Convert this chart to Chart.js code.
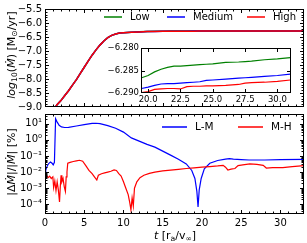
<!DOCTYPE html>
<html><head><meta charset="utf-8">
<script src="https://cdn.jsdelivr.net/npm/chart.js@4"></script>
<style>
html,body{margin:0;padding:0;background:#fff;width:307px;height:243px;overflow:hidden;position:relative}
canvas{position:absolute}
#top{left:0;top:0}
#bot{left:0;top:105px}
#ins{left:95px;top:41px}
</style></head><body>
<canvas id="top" width="307" height="116" style="width:307px;height:116px"></canvas>
<canvas id="bot" width="307" height="138" style="width:307px;height:138px"></canvas>
<canvas id="ins" width="200" height="67" style="width:200px;height:67px"></canvas>
<script>
// ---------- data ----------
const seriesNames = ['Low', 'Medium', 'High'];
const diffNames = ['L-M', 'M-H'];

// time grid for accretion-rate curves  [r_a / v_inf]
const tRate = [0,0.5,1,1.5,2,2.5,3,3.5,4,4.5,5,5.5,6,6.5,7,7.5,8,8.5,9,9.5,10,
  11,12,13,14,15,16,17,18,19,
  19.5,20,20.5,21,21.5,22,22.5,23,23.5,24,24.5,25,
  26,27,27.5,28,29,30,31,32,33];

// log10(Mdot) [Msun/yr]
const rateLow = [-9.75,-9.45,-9.15,-8.93,-8.78,-8.6,-8.42,-8.22,-8.02,-7.8,-7.58,-7.36,-7.15,-6.96,-6.79,-6.64,-6.52,-6.44,-6.39,-6.36,-6.345,
  -6.327,-6.314,-6.304,-6.297,-6.293,-6.290,-6.2885,-6.2876,-6.2870,
  -6.2866,-6.2861,-6.2853,-6.2847,-6.2843,-6.2840,-6.2840,-6.2839,-6.2838,-6.2837,-6.2836,-6.2835,
  -6.2832,-6.2831,-6.2830,-6.2829,-6.2826,-6.2824,-6.2821,-6.2820,-6.2819];
const rateMedium = [-9.75,-9.45,-9.15,-8.93,-8.78,-8.6,-8.42,-8.22,-8.02,-7.8,-7.58,-7.36,-7.15,-6.96,-6.79,-6.64,-6.52,-6.44,-6.39,-6.36,-6.345,
  -6.329,-6.317,-6.307,-6.300,-6.296,-6.293,-6.2915,-6.2905,-6.2896,
  -6.2890,-6.2887,-6.2883,-6.2880,-6.2879,-6.2879,-6.2878,-6.2877,-6.2876,-6.2875,-6.2872,-6.2871,
  -6.2869,-6.2867,-6.2866,-6.2865,-6.2863,-6.2861,-6.2858,-6.2857,-6.2856];
const rateHigh = [-9.75,-9.45,-9.15,-8.93,-8.78,-8.6,-8.42,-8.22,-8.02,-7.8,-7.58,-7.36,-7.15,-6.96,-6.79,-6.64,-6.52,-6.44,-6.39,-6.36,-6.345,
  -6.33,-6.318,-6.308,-6.301,-6.297,-6.294,-6.2925,-6.2915,-6.2905,
  -6.2899,-6.2897,-6.2892,-6.2891,-6.2890,-6.2890,-6.2891,-6.2886,-6.2885,-6.2885,-6.2884,-6.2884,
  -6.2883,-6.2881,-6.2878,-6.2877,-6.2876,-6.2874,-6.2871,-6.2870,-6.2869];

// relative difference |dMdot|/|Mdot| [%]
const tLM = [0,0.1,0.3,0.5,0.7,0.9,1.05,1.2,1.35,1.5,1.8,2.1,2.5,3,4,5,6,6.5,7,8,9,10,11,12,13,14,15,16,17,18,18.7,19.1,19.35,19.5,19.65,19.9,20.3,21,22,23,23.5,24,25,26,28,30,33];
const diffLM = [0.010,0.0132,0.025,0.035,0.042,0.035,0.028,0.040,20,14,7.9,6.3,5.8,6.0,7.2,8.7,10.5,10.7,10,7.6,5.2,3.0,1.32,0.83,0.52,0.35,0.20,0.112,0.063,0.032,0.0126,0.004,6.3e-4,6.9e-5,7.9e-4,0.004,0.0158,0.035,0.052,0.063,0.068,0.063,0.059,0.056,0.056,0.059,0.062];
const tMH = [0,0.2,0.4,0.6,0.8,1.0,1.1,1.25,1.4,1.55,1.7,1.85,1.95,2.05,2.15,2.3,2.45,2.6,2.7,2.8,2.9,3.2,3.6,4.0,4.4,4.8,5.2,5.6,6.0,6.3,6.6,6.8,7.2,7.6,8.0,8.4,8.8,9.1,9.4,9.7,10.0,10.3,10.6,10.8,10.95,11.1,11.25,11.4,11.7,12.1,12.6,13.3,14,15,16,17,18,19,20,21,22,22.7,23.0,23.3,23.7,24.2,24.6,25.2,26.1,27,27.8,28.2,29,30.3,31.5,33];
const diffMH = [0.0079,0.0063,0.0045,0.0056,0.0040,0.0050,0.0011,0.0028,7.1e-4,0.0025,7.9e-4,1.4e-4,0.00126,0.0063,0.0025,0.0040,0.00126,6.3e-4,0.0050,0.010,0.035,0.040,0.045,0.050,0.054,0.047,0.025,0.0126,0.0079,0.0050,0.0032,0.0063,0.0079,0.0089,0.010,0.0112,0.0135,0.0126,0.0079,0.0056,0.0025,0.0010,4.0e-4,1.26e-4,4.5e-5,2.5e-4,7.9e-5,0.0010,0.0025,0.0045,0.0063,0.0083,0.010,0.0117,0.0132,0.0148,0.0166,0.0182,0.020,0.022,0.024,0.026,0.020,0.0135,0.0151,0.0166,0.025,0.028,0.032,0.030,0.026,0.0178,0.0186,0.019,0.022,0.025];

// tick labels
const topYTicks = [-9.0,-8.5,-8.0,-7.5,-7.0,-6.5,-6.0,-5.5];
const xTicks = [0,5,10,15,20,25,30];
const botYTicks = [1e-4,1e-3,1e-2,1e-1,1e0,1e1];
const insetXTicks = [20.0,22.5,25.0,27.5,30.0];
const insetYTicks = [-6.290,-6.285,-6.280];

// ---------- helpers ----------
const FONT = "'DejaVu Sans', sans-serif";
Chart.defaults.color = '#000';
Chart.defaults.font.family = FONT;
const COL = {Low:'#008000', Medium:'#0000ff', High:'#ff0000', 'L-M':'#0000ff', 'M-H':'#ff0000'};
const pts = (xs, ys) => xs.map((x,i)=>({x, y:ys[i]}));
const minus = s => String(s).replace('-', '\u2212');
const sup = {'-':'\u207B','0':'\u2070','1':'\u00B9','2':'\u00B2','3':'\u00B3','4':'\u2074','5':'\u2075','6':'\u2076','7':'\u2077','8':'\u2078','9':'\u2079'};
const powLabel = v => '10' + String(Math.round(Math.log10(v))).split('').map(c=>sup[c]).join('');
function steps(a,b,s){const r=[];for(let v=a;v<=b+1e-9;v+=s)r.push(+v.toFixed(6));return r;}
function logMinor(lo,hi){const r=[];for(let d=-6;d<=2;d++)for(let k=2;k<=9;k++){const v=k*Math.pow(10,d);if(v>=lo&&v<=hi)r.push(v);}return r;}

function frame(opts){
  return {id:'frame', afterDatasetsDraw(chart){
    const {ctx, chartArea:a, scales:{x,y}} = chart;
    ctx.save(); ctx.strokeStyle='#000'; ctx.lineWidth=1;
    const L=Math.round(a.left)+0.5, R=Math.round(a.right)-0.5, T=Math.round(a.top)+0.5, B=Math.round(a.bottom)-0.5;
    ctx.beginPath();
    const vt=(v,len)=>{const p=Math.round(x.getPixelForValue(v))+0.5; if(p<L||p>R)return; ctx.moveTo(p,B);ctx.lineTo(p,B-len);ctx.moveTo(p,T);ctx.lineTo(p,T+len);};
    const ht=(v,len)=>{const p=Math.round(y.getPixelForValue(v))+0.5; if(p<T||p>B)return; ctx.moveTo(L,p);ctx.lineTo(L+len,p);ctx.moveTo(R,p);ctx.lineTo(R-len,p);};
    (opts.xMajor||[]).forEach(v=>vt(v,3.5)); (opts.xMinor||[]).forEach(v=>vt(v,2));
    (opts.yMajor||[]).forEach(v=>ht(v,3.5)); (opts.yMinor||[]).forEach(v=>ht(v,2));
    ctx.stroke();
    ctx.strokeRect(L,T,R-L,B-T);
    ctx.restore();
  }};
}
function rich(ctx, segs, cx, cy, rot, size){
  ctx.save(); ctx.translate(cx,cy); ctx.rotate(rot); ctx.textBaseline='middle'; ctx.fillStyle='#000';
  const f=s=>(s.i?'italic ':'')+(s.sub?size*0.7:size)+'px '+FONT;
  let tot=0; segs.forEach(s=>{ctx.font=f(s); s.w=ctx.measureText(s.t).width; tot+=s.w;});
  let x=-tot/2; segs.forEach(s=>{ctx.font=f(s); ctx.fillText(s.t,x,s.sub?size*0.28:0); x+=s.w;});
  ctx.restore();
}
function textPlugin(fn){return {id:'txt', afterDraw(chart){fn(chart.ctx);}};}
function legendPlugin(items, y, len, size){
  return {id:'leg', afterDraw(chart){
    const ctx=chart.ctx; ctx.save(); ctx.font=size+'px '+FONT; ctx.textBaseline='middle'; ctx.fillStyle='#000';
    items.forEach(it=>{ctx.strokeStyle=COL[it.name]; ctx.lineWidth=1.5; ctx.beginPath(); ctx.moveTo(it.x,y); ctx.lineTo(it.x+len,y); ctx.stroke(); ctx.fillText(it.name,it.x+len+8,y);});
    ctx.restore();
  }};
}
// lower "order" is drawn on top
const lineDS = (label, data, w, order) => ({label, data, order, borderColor:COL[label], borderWidth:w, pointRadius:0, fill:false, tension:0});
const tickFont = s => ({family:FONT, size:s});
const tk = (s, extra) => Object.assign({autoSkip:false, maxRotation:0, font:tickFont(s)}, extra);

// ---------- top panel ----------
new Chart(document.getElementById('top'), {
  type:'line',
  data:{datasets:[lineDS('Low',pts(tRate,rateLow),1.5,3), lineDS('Medium',pts(tRate,rateMedium),1.5,2), lineDS('High',pts(tRate,rateHigh),1.5,1)]},
  options:{responsive:false, animation:false, events:[],
    layout:{padding:{top:5,right:3,bottom:6,left:0}},
    plugins:{legend:{display:false}, tooltip:{enabled:false}},
    scales:{
      x:{type:'linear', min:0, max:33, display:false},
      y:{type:'linear', min:-9, max:-5.5, afterFit:s=>{s.width=45;}, afterBuildTicks:s=>{s.ticks=topYTicks.map(v=>({value:v}));},
         grid:{display:false, drawTicks:false}, border:{display:false},
         ticks:tk(10,{padding:3, callback:v=>minus(v.toFixed(1))})}
    }},
  plugins:[frame({xMajor:xTicks, xMinor:steps(0,33,1), yMajor:topYTicks, yMinor:steps(-9,-5.5,0.1)}),
    legendPlugin([{name:'Low',x:104},{name:'Medium',x:167},{name:'High',x:247}], 17, 18, 10),
    textPlugin(ctx=>rich(ctx,[{t:'log',i:1},{t:'10',sub:1},{t:'('},{t:'\u1E40',i:1},{t:')'},{t:' [M'},{t:'\u2299',sub:1},{t:'/yr]'}],12,55,-Math.PI/2,11))]
});

// ---------- bottom panel ----------
new Chart(document.getElementById('bot'), {
  type:'line',
  data:{datasets:[lineDS('L-M',pts(tLM,diffLM),1.2,2), lineDS('M-H',pts(tMH,diffMH),1.2,1)]},
  options:{responsive:false, animation:false, events:[],
    layout:{padding:{top:5,right:3,bottom:0,left:0}},
    plugins:{legend:{display:false}, tooltip:{enabled:false}},
    scales:{
      x:{type:'linear', min:0, max:33, afterFit:s=>{s.height=29;}, afterBuildTicks:s=>{s.ticks=xTicks.map(v=>({value:v}));},
         grid:{display:false, drawTicks:false}, border:{display:false},
         ticks:tk(10,{padding:3, callback:v=>String(v)})},
      y:{type:'logarithmic', min:2.5e-5, max:40, afterFit:s=>{s.width=45;}, afterBuildTicks:s=>{s.ticks=botYTicks.map(v=>({value:v}));},
         grid:{display:false, drawTicks:false}, border:{display:false},
         ticks:tk(10,{padding:3, callback:v=>powLabel(v)})}
    }},
  plugins:[frame({xMajor:xTicks, xMinor:steps(0,33,1), yMajor:botYTicks, yMinor:logMinor(2.5e-5,40)}),
    legendPlugin([{name:'L-M',x:162},{name:'M-H',x:238}], 22, 25, 10.5),
    textPlugin(ctx=>{
      rich(ctx,[{t:'|\u0394'},{t:'\u1E40',i:1},{t:'|/|'},{t:'\u1E40',i:1},{t:'| [%]'}],12,57,-Math.PI/2,11);
      rich(ctx,[{t:'t',i:1},{t:' [r'},{t:'a',sub:1},{t:'/v'},{t:'\u221E',sub:1},{t:']'}],175,131,0,11);
    })]
});

// ---------- inset ----------
new Chart(document.getElementById('ins'), {
  type:'line',
  data:{datasets:[lineDS('Low',pts(tRate,rateLow),1.2,3), lineDS('Medium',pts(tRate,rateMedium),1.2,2), lineDS('High',pts(tRate,rateHigh),1.2,1)]},
  options:{responsive:false, animation:false, events:[],
    layout:{padding:{top:5,right:4,bottom:0,left:0}},
    plugins:{legend:{display:false}, tooltip:{enabled:false}},
    scales:{
      x:{type:'linear', min:19.45, max:31.05, afterFit:s=>{s.height=15;}, afterBuildTicks:s=>{s.ticks=insetXTicks.map(v=>({value:v}));},
         grid:{display:false, drawTicks:false}, border:{display:false},
         ticks:tk(8.5,{padding:2, callback:v=>v.toFixed(1)})},
      y:{type:'linear', min:-6.290, max:-6.280, afterFit:s=>{s.width=46;}, afterBuildTicks:s=>{s.ticks=insetYTicks.map(v=>({value:v}));},
         grid:{display:false, drawTicks:false}, border:{display:false},
         ticks:tk(8.5,{padding:2, callback:v=>minus(v.toFixed(3))})}
    }},
  plugins:[{id:'bg', beforeDatasetsDraw(chart){const {ctx,chartArea:a}=chart; ctx.save(); ctx.fillStyle='#fff'; ctx.fillRect(a.left,a.top,a.right-a.left,a.bottom-a.top); ctx.restore();}},
    frame({xMajor:insetXTicks, yMajor:insetYTicks})]
});
</script>
</body></html>
